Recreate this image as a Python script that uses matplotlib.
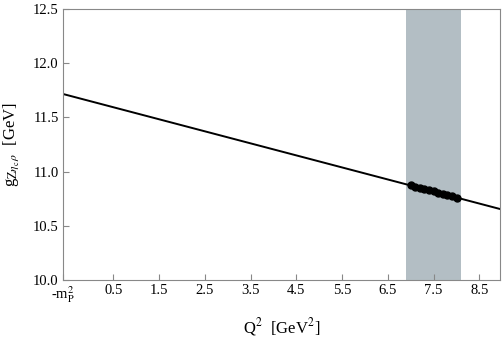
import matplotlib
matplotlib.use("Agg")
import matplotlib.pyplot as plt

plt.rcParams["font.family"] = "Liberation Serif"
plt.rcParams["mathtext.fontset"] = "stix"

# fitted line, evaluated at the ends of the plotted range
fit_q2 = [-0.6, 8.95]
fit_g = [11.716, 10.655]

# sum rule points inside the Borel window
q2_points = [7.0, 7.1, 7.2, 7.3, 7.4, 7.5, 7.6, 7.7, 7.8, 7.9, 8.0]
g_points = [10.872, 10.861, 10.850, 10.839, 10.828, 10.817, 10.805, 10.794, 10.783, 10.772, 10.761]

band = [6.9, 8.1]

tick_pos = [-0.6, 0.5, 1.5, 2.5, 3.5, 4.5, 5.5, 6.5, 7.5, 8.5]
tick_labels = [r"-m$_\mathrm{P}^2$", "0.5", "1.5", "2.5", "3.5", "4.5", "5.5", "6.5", "7.5", "8.5"]

fig = plt.figure(figsize=(5.03, 3.39), dpi=100)
ax = fig.add_axes([63 / 503, 59 / 339, 437 / 503, 271 / 339])

ax.axvspan(band[0], band[1], color="#b3bec4", lw=0)
ax.plot(fit_q2, fit_g, color="black", lw=1.4)
ax.plot(q2_points, g_points, "o", color="black", ms=5)

ax.set_xlim(fit_q2[0], fit_q2[1])
ax.set_ylim(10.0, 12.5)
ax.set_xticks(tick_pos)
ax.set_xticklabels(tick_labels)
ax.set_yticks([10.0, 10.5, 11.0, 11.5, 12.0, 12.5])
ax.set_yticklabels(["10.0", "10.5", "11.0", "11.5", "12.0", "12.5"])
ax.tick_params(direction="in", length=4, color="#888888", labelsize=10.5, pad=3)

for s in ax.spines.values():
    s.set_color("#888888")

ax.set_xlabel(r"Q$^2$  [GeV$^2$]", fontsize=12, labelpad=8)
ax.set_ylabel(r"g$_{\mathrm{Z}\eta_\mathrm{c}\,\rho}$  [GeV]", fontsize=12, labelpad=9)

plt.savefig("out.png", dpi=100)
